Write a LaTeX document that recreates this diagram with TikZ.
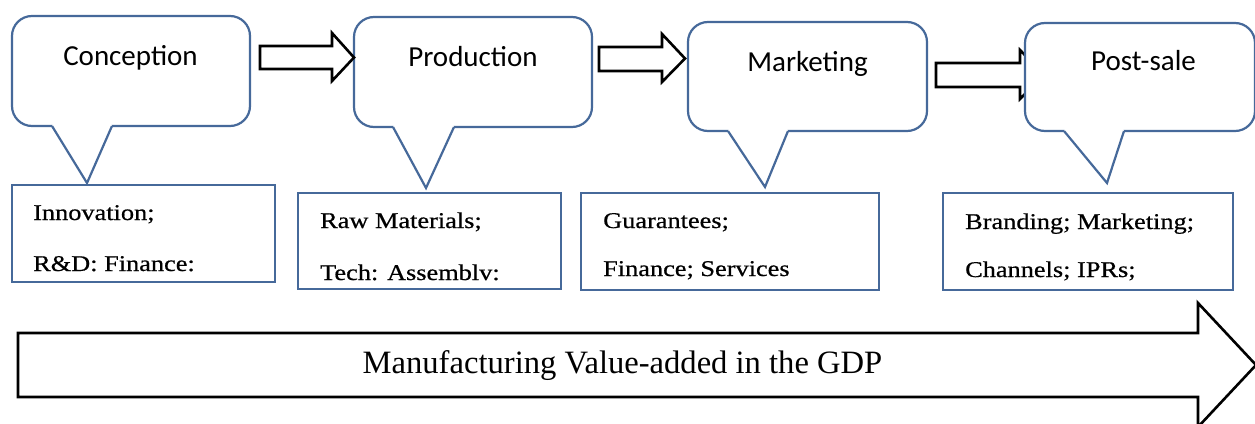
\documentclass[tikz,border=0pt]{standalone}
\usepackage{fontspec}
\setmainfont{Liberation Serif}
\newfontfamily\headfont{Carlito}
\newfontfamily\boxfont[FakeStretch=1.17,FakeBold=0.6]{Liberation Serif}
\definecolor{callblue}{HTML}{46699A}
\tikzset{
  callbox/.style={draw=callblue, line width=2.2pt, fill=white, rounded corners=20pt, inner sep=0pt, outer sep=0pt},
  callline/.style={draw=callblue, line width=2.2pt, line join=miter},
  headtext/.style={font=\headfont\fontsize{29}{34}\selectfont, anchor=base, inner sep=0pt},
  textbox/.style={draw=callblue, line width=2.2pt, fill=white, inner sep=0pt, outer sep=0pt},
  boxtext/.style={font=\boxfont\fontsize{22.5}{27}\selectfont, anchor=base west, inner sep=0pt},
  blockarrow/.style={draw=black, line width=2.6pt, fill=white, line join=miter},
  gdptext/.style={font=\fontsize{32.6}{38}\selectfont, anchor=base, inner sep=0pt}
}
\begin{document}
\begin{tikzpicture}[x=1pt,y=-1pt]
\useasboundingbox (0,0) rectangle (1255,423);

% big arrow at the bottom
\draw[blockarrow] (18,333) -- (1198,333) -- (1198,303) -- (1256,365) -- (1198,427) -- (1198,397) -- (18,397) -- cycle;
\node[gdptext] (gdp) at (622.5,373) {Manufacturing Value-added in the GDP};

% callout 1
\node[callbox, minimum width=238pt, minimum height=110pt] (c1) at (131,71) {};
\coordinate (p1) at (87,183);
\fill[white] (53,123) -- (111,123) -- (112,126) -- (p1) -- (52,126) -- cycle;
\draw[callline] (52,126) -- (p1) -- (112,126);
\node[headtext] (h1) at (130.5,65) {Conception};

% callout 2
\node[callbox, minimum width=238pt, minimum height=110pt] (c2) at (473,72) {};
\coordinate (p2) at (426,188);
\fill[white] (394,124) -- (453,124) -- (454,127) -- (p2) -- (393,127) -- cycle;
\draw[callline] (393,127) -- (p2) -- (454,127);
\node[headtext] (h2) at (473,66.5) {Production};

% callout 3
\node[callbox, minimum width=239pt, minimum height=109pt] (c3) at (807.5,76.5) {};
\coordinate (p3) at (765,187);
\fill[white] (729,128) -- (787,128) -- (788,131) -- (p3) -- (728,131) -- cycle;
\draw[callline] (728,131) -- (p3) -- (788,131);
\node[headtext] (h3) at (807.5,71) {Marketing};

% arrows between callouts
\draw[blockarrow] (260,46) -- (332,46) -- (332,33) -- (354,57.5) -- (332,81) -- (332,69) -- (260,69) -- cycle;
\draw[blockarrow] (599,47) -- (662,47) -- (662,34) -- (685,58.5) -- (662,82) -- (662,71) -- (599,71) -- cycle;
\draw[blockarrow] (936,63) -- (1020,63) -- (1020,50) -- (1044,75) -- (1020,99) -- (1020,87) -- (936,87) -- cycle;

% callout 4 (drawn over arrow 3)
\node[callbox, minimum width=230pt, minimum height=108pt] (c4) at (1140,77) {};
\coordinate (p4) at (1107,183);
\fill[white] (1065,128) -- (1123,128) -- (1124,131) -- (p4) -- (1064,131) -- cycle;
\draw[callline] (1064,131) -- (p4) -- (1124,131);
\node[headtext] (h4) at (1143.5,70) {Post-sale};

% text boxes
\node[textbox, minimum width=263pt, minimum height=97pt] (b1) at (143.5,233.5) {};
\node[boxtext] (b1a) at (33,220) {Innovation;};
\node[boxtext] (b1b) at (33,271) {R\&D: Finance:};

\node[textbox, minimum width=263pt, minimum height=96pt] (b2) at (429.5,241) {};
\node[boxtext] (b2a) at (320,228) {Raw Materials;};
\node[boxtext] (b2b) at (320,280) {Tech: Assemblv:};

\node[textbox, minimum width=298pt, minimum height=97pt] (b3) at (730,241.5) {};
\node[boxtext] (b3a) at (603,228) {Guarantees;};
\node[boxtext] (b3b) at (603,276) {Finance; Services};

\node[textbox, minimum width=290pt, minimum height=97pt] (b4) at (1088,241.5) {};
\node[boxtext] (b4a) at (965,229) {Branding; Marketing;};
\node[boxtext] (b4b) at (965,277) {Channels; IPRs;};
\end{tikzpicture}
\end{document}
